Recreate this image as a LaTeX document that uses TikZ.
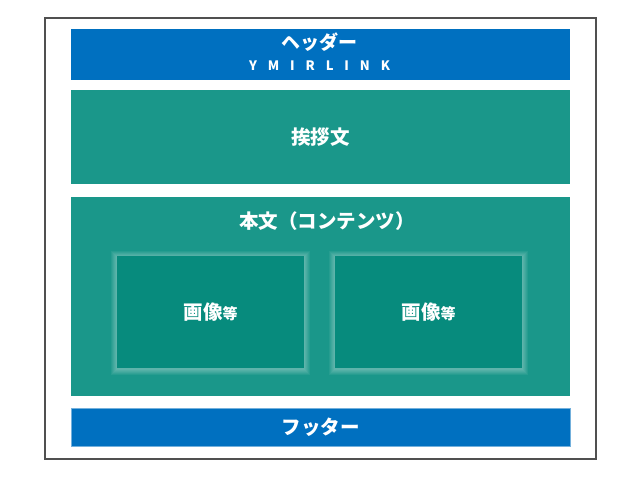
\documentclass[tikz,border=0pt]{standalone}
\usepackage{fontspec}
\setmainfont{Noto Sans CJK JP}
\usepackage{tikz}
\usetikzlibrary{positioning}
\definecolor{lBlue}{HTML}{0070C0}
\definecolor{lGreen}{HTML}{1A978A}
\definecolor{lTeal}{HTML}{078B7D}
\definecolor{lFrame}{HTML}{505050}
\tikzset{
  band/.style={minimum width=499pt, inner sep=0pt, text=white,
    font=\bfseries\fontsize{19.5}{21}\selectfont, align=center},
  blueband/.style={band, fill=lBlue},
  greenband/.style={band, fill=lGreen},
  imgbox/.style={fill=lTeal, minimum width=187pt, minimum height=112pt,
    inner sep=0pt, text=white, font=\bfseries\fontsize{19.5}{21}\selectfont},
}
\newcommand{\imgtext}{画像{\fontsize{15}{15}\selectfont 等}}

\begin{document}
\begin{tikzpicture}[x=1pt, y=-1pt]
  \useasboundingbox (0,0) rectangle (640,480);
  \draw[lFrame, line width=2pt] (45,18) rectangle (596,459);

  \node[blueband, minimum height=51pt] (header) at (320.5,54.5) {};
  \node[text=white, font=\bfseries\fontsize{19}{20}\selectfont] (htitle) at (319,42) {ヘッダー};
  \node[text=white, font=\bfseries\fontsize{13}{14}\selectfont\addfontfeature{LetterSpace=84}] (hlogo) at (319.5,66) {YMIRLINK};

  \node[greenband, minimum height=94pt] (greeting) at (320.5,137) {挨拶文};

  \node[greenband, minimum height=199pt] (body) at (320.5,296.5) {};
  \node[text=white, font=\bfseries\fontsize{19.5}{21}\selectfont] (btitle) at (327,221) {本文（コンテンツ）};

  % glow round the picture boxes
  \foreach \cx in {210.5,428.5}
    \foreach \g in {1,...,6}
      \fill[white, opacity=0.06] (\cx-93.5-\g,257-\g) rectangle (\cx+93.5+\g,369+\g);

  \node[imgbox] (img1) at (210.5,312) {\imgtext};
  \node[imgbox] (img2) at (428.5,312) {\imgtext};

  \node[blueband, minimum height=38pt, draw=lBlue!55, line width=0.6pt] (footer) at (320.5,427) {フッター};
\end{tikzpicture}
\end{document}
